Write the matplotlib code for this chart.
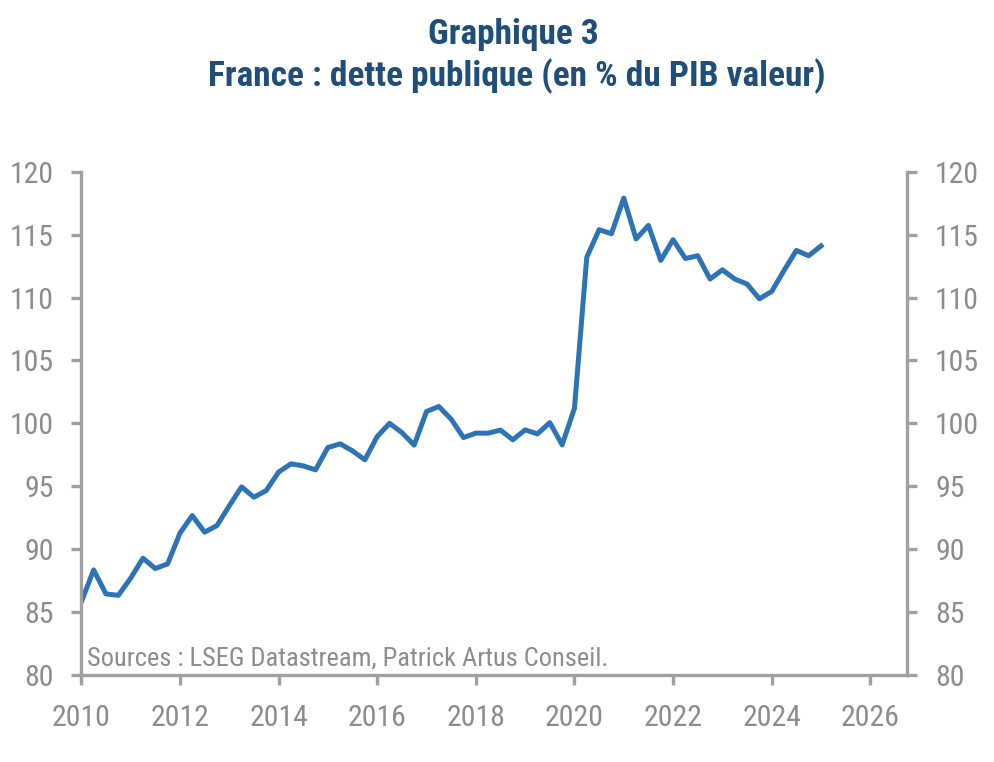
import matplotlib
matplotlib.use("Agg")
import matplotlib.pyplot as plt
import numpy as np

# quarterly public debt, % of GDP, 2010Q1 .. 2025Q1
start_year = 2010
debt = [
    85.8, 88.35, 86.44, 86.33,
    87.69, 89.28, 88.46, 88.83,
    91.27, 92.67, 91.35, 91.87,
    93.44, 94.95, 94.13, 94.66,
    96.12, 96.78, 96.62, 96.3,
    98.08, 98.37, 97.81, 97.1,
    98.95, 100.0, 99.27, 98.27,
    100.94, 101.34, 100.33, 98.87,
    99.22, 99.22, 99.46, 98.69,
    99.48, 99.16, 100.06, 98.29,
    101.2, 113.2, 115.39, 115.07,
    117.9, 114.65, 115.73, 112.95,
    114.59, 113.1, 113.32, 111.47,
    112.2, 111.47, 111.07, 109.9,
    110.48, 112.15, 113.74, 113.32,
    114.1,
]
x_ticks = [2010, 2012, 2014, 2016, 2018, 2020, 2022, 2024, 2026]
y_ticks = [80, 85, 90, 95, 100, 105, 110, 115, 120]

title_1 = "Graphique 3"
title_2 = "France : dette publique (en % du PIB valeur)"
source = "Sources : LSEG Datastream, Patrick Artus Conseil."

# narrow sans, close to the Arial Narrow of the original
plt.rcParams["font.family"] = ["Roboto Condensed", "Liberation Sans", "DejaVu Sans"]

grey = "#8c8c8c"
axis_grey = "#a0a0a0"
title_blue = "#1f4e79"
line_blue = "#2e73b5"

x = start_year + np.arange(len(debt)) / 4.0

fig = plt.figure(figsize=(9.94, 7.62), dpi=100)
ax = fig.add_axes([0.0818, 0.1142, 0.8310, 0.6605])

ax.plot(x, debt, color=line_blue, linewidth=3.6)

ax.set_xlim(2010, 2026.75)
ax.set_ylim(80, 120)
ax.set_xticks(x_ticks)
ax.set_yticks(y_ticks)

ax.spines["top"].set_visible(False)
for side in ["left", "right", "bottom"]:
    ax.spines[side].set_color(axis_grey)
    ax.spines[side].set_linewidth(2.4)

ax.tick_params(axis="both", colors=axis_grey, width=2.4, length=7,
               labelcolor=grey, labelsize=21.5)
ax.tick_params(axis="y", right=True, labelright=True, pad=13)
ax.tick_params(axis="x", pad=14)

ax.text(0.007, 0.018, source, transform=ax.transAxes, color=grey,
        fontsize=19, ha="left", va="baseline")

fig.text(0.516, 0.955, title_1, color=title_blue, fontsize=25.5,
         fontweight="bold", ha="center", va="center")
fig.text(0.520, 0.900, title_2, color=title_blue, fontsize=25.5,
         fontweight="bold", ha="center", va="center")

fig.savefig("out.png", dpi=100)
